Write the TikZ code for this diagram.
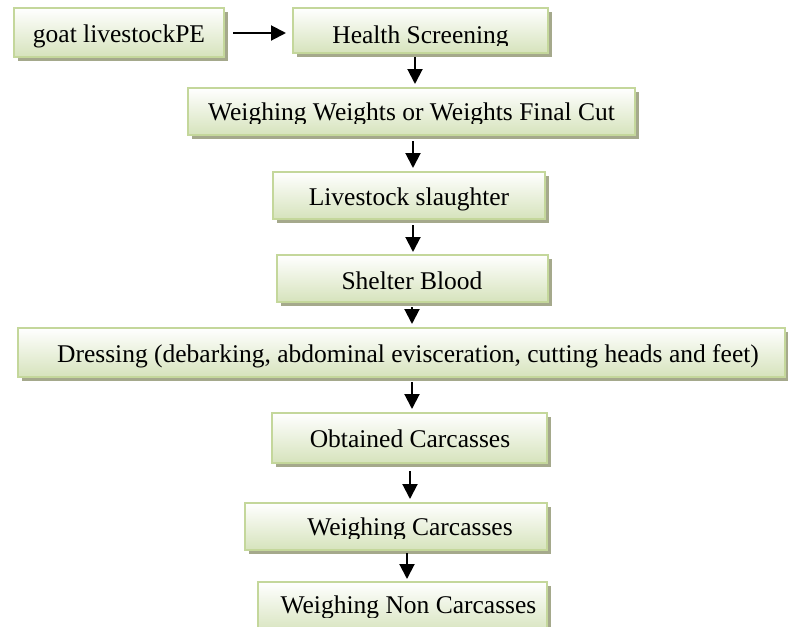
\documentclass[tikz,border=0pt]{standalone}
\usepackage{fontspec}
\setmainfont{Liberation Serif}
\usetikzlibrary{shadows,arrows.meta,fit}
\definecolor{boxline}{RGB}{196,215,155}
\definecolor{boxbot}{RGB}{214,227,188}
\definecolor{boxshadow}{RGB}{165,169,140}
\tikzset{
  stepbox/.style={draw=boxline, line width=2pt, top color=white, bottom color=boxbot,
    inner sep=0pt,
    drop shadow={shadow xshift=3.5pt, shadow yshift=-4pt, fill=boxshadow, opacity=1}},
  steptext/.style={font=\fontsize{25.5}{30}\selectfont, inner sep=0pt, anchor=base, text=black},
  flowarrow/.style={line width=2pt, -{Triangle[width=15pt,length=15pt]}}
}
% name, left, top, right, bottom, text x, baseline y, clip y, text
\newcommand\flowstep[9]{%
  \node[stepbox, fit={(#2,#3) (#4,#5)}] (#1) {};
  \begin{scope}
    \clip (#1.north west) rectangle (#1.east |- 0,#8);
    \node[steptext] (#1-t) at (#6,#7) {#9};
  \end{scope}}
\begin{document}
\begin{tikzpicture}[x=1pt,y=-1pt]
\useasboundingbox (0,0) rectangle (788,627);
\flowstep{goat}{14}{8}{224}{57}{119}{42}{57}{goat livestockPE}
\flowstep{hs}{293}{8}{548}{53}{420.5}{43}{45.5}{Health Screening}
\flowstep{ww}{188}{88}{635}{135}{411.5}{120}{123}{Weighing Weights or Weights Final Cut}
\flowstep{ls}{273}{172}{545}{219}{409}{205}{219}{Livestock slaughter}
\flowstep{sb}{277}{255}{548}{302}{412}{289}{302}{Shelter Blood}
\flowstep{dr}{18}{328}{785}{377}{408}{362}{377}{Dressing (debarking, abdominal evisceration, cutting heads and feet)}
\flowstep{oc}{272}{413}{547}{463}{410}{447}{463}{Obtained Carcasses}
\flowstep{wc}{245}{503}{547}{550}{410}{535}{538}{Weighing Carcasses}
\flowstep{wnc}{258}{582}{547}{634}{408.5}{613}{617}{Weighing Non Carcasses}

\draw[flowarrow, shorten <=8pt, shorten >=6pt] (goat.east |- 0,33) -- (hs.west |- 0,33);
\draw[flowarrow, shorten <=3pt, shorten >=3pt] (hs.south -| 415,0) -- (ww.north -| 415,0);
\draw[flowarrow, shorten <=5pt, shorten >=3pt] (ww.south -| 413,0) -- (ls.north -| 413,0);
\draw[flowarrow, shorten <=5pt, shorten >=2pt] (ls.south -| 413,0) -- (sb.north -| 413,0);
\draw[flowarrow, shorten <=4pt, shorten >=3pt] (sb.south -| 412,0) -- (dr.north -| 412,0);
\draw[flowarrow, shorten <=4pt, shorten >=3pt] (dr.south -| 412,0) -- (oc.north -| 412,0);
\draw[flowarrow, shorten <=7pt, shorten >=3pt] (oc.south -| 410,0) -- (wc.north -| 410,0);
\draw[flowarrow, shorten <=2pt, shorten >=2pt] (wc.south -| 407,0) -- (wnc.north -| 407,0);
\end{tikzpicture}
\end{document}
